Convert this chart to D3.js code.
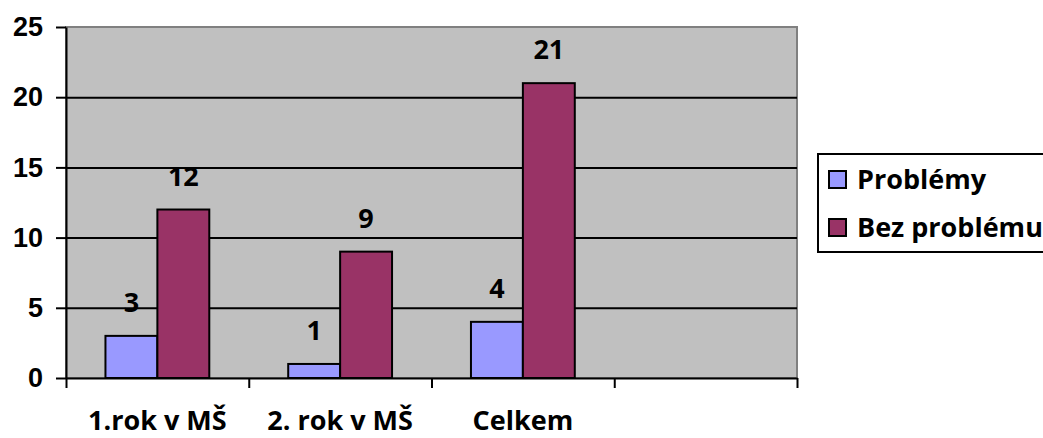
<!DOCTYPE html>
<html>
<head>
<meta charset="utf-8">
<script src="https://cdn.jsdelivr.net/npm/d3@7"></script>
<style>
  html, body { margin: 0; padding: 0; background: #fff; }
  svg { display: block; font-family: "Open Sans", Lato, sans-serif; font-weight: bold; }
</style>
</head>
<body>
<svg id="svg" width="1043" height="438"></svg>
<script>
const categories = ['1.rok v MŠ', '2. rok v MŠ', 'Celkem', ''];
const seriesNames = ['Problémy', 'Bez problému'];
const problemy = [3, 1, 4];
const bezProblemu = [12, 9, 21];
const yTicks = [0, 5, 10, 15, 20, 25];
const colors = ['#9999ff', '#993366'];

const drawChart = function() {
  const svg = d3.select('#svg');
  const plot = { left: 66, top: 27, right: 797, bottom: 378 };
  const fontSize = 27;

  const x = d3.scaleBand().domain(categories).range([plot.left, plot.right]);
  const x1 = d3.scaleBand().domain(seriesNames).range([0, x.bandwidth()]).paddingOuter(0.76);
  const y = d3.scaleLinear().domain([0, 25]).range([plot.bottom, plot.top]);

  // plot background with grey frame
  svg.append('rect')
    .attr('x', plot.left).attr('y', plot.top)
    .attr('width', plot.right - plot.left).attr('height', plot.bottom - plot.top)
    .attr('fill', '#c0c0c0')
    .attr('stroke', '#808080')
    .attr('stroke-width', 2);

  // gridlines
  svg.append('g')
    .attr('transform', 'translate(' + plot.left + ',0)')
    .call(d3.axisLeft(y).tickValues(yTicks.slice(1, -1)).tickSize(-(plot.right - plot.left)).tickFormat(''))
    .call(g => g.select('.domain').remove())
    .selectAll('line').attr('stroke', '#000').attr('stroke-width', 2);

  // bars
  const rows = categories.map((c, i) => ({ cat: c, vals: [problemy[i], bezProblemu[i]] }))
    .filter(r => r.vals[0] !== undefined);

  const groups = svg.append('g').selectAll('g')
    .data(rows).enter().append('g')
    .attr('transform', d => 'translate(' + x(d.cat) + ',0)');

  groups.selectAll('rect')
    .data(d => d.vals.map((v, k) => ({ name: seriesNames[k], v: v, k: k })))
    .enter().append('rect')
    .attr('x', d => x1(d.name))
    .attr('y', d => y(d.v))
    .attr('width', x1.bandwidth())
    .attr('height', d => y(0) - y(d.v))
    .attr('fill', d => colors[d.k])
    .attr('stroke', '#000')
    .attr('stroke-width', 2);

  groups.selectAll('text')
    .data(d => d.vals.map((v, k) => ({ name: seriesNames[k], v: v })))
    .enter().append('text')
    .attr('x', d => x1(d.name) + x1.bandwidth() / 2)
    .attr('y', d => y(d.v) - 24)
    .attr('text-anchor', 'middle')
    .attr('font-size', fontSize)
    .text(d => d.v);

  // y axis
  const yAxis = svg.append('g')
    .attr('transform', 'translate(' + plot.left + ',0)')
    .call(d3.axisLeft(y).tickValues(yTicks).tickSize(10).tickSizeOuter(0).tickPadding(13));
  yAxis.selectAll('line, path').attr('stroke', '#000').attr('stroke-width', 2);
  yAxis.selectAll('text').attr('font-size', fontSize).attr('font-family', null).attr('fill', '#000');

  // x axis ticks at category boundaries
  const xb = d3.scaleLinear().domain([0, categories.length]).range([plot.left, plot.right]);
  const xAxis = svg.append('g')
    .attr('transform', 'translate(0,' + plot.bottom + ')')
    .call(d3.axisBottom(xb).tickValues(d3.range(categories.length + 1)).tickSize(10).tickSizeOuter(0).tickFormat(''));
  xAxis.selectAll('line, path').attr('stroke', '#000').attr('stroke-width', 2);

  // category labels
  svg.append('g').selectAll('text')
    .data(categories).enter().append('text')
    .attr('x', d => x(d) + x.bandwidth() / 2)
    .attr('y', 430)
    .attr('text-anchor', 'middle')
    .attr('font-size', fontSize)
    .text(d => d);

  // legend
  const legend = svg.append('g');
  legend.append('rect')
    .attr('x', 818).attr('y', 154)
    .attr('width', 240).attr('height', 98)
    .attr('fill', '#fff').attr('stroke', '#000').attr('stroke-width', 2);
  const items = legend.selectAll('g.item')
    .data(seriesNames).enter().append('g')
    .attr('transform', (d, i) => 'translate(829,' + (171 + i * 48) + ')');
  items.append('rect')
    .attr('width', 17).attr('height', 17)
    .attr('fill', (d, i) => colors[i])
    .attr('stroke', '#000').attr('stroke-width', 2);
  items.append('text')
    .attr('x', 28).attr('y', 18)
    .attr('font-size', fontSize)
    .text(d => d);
};

window.onload = function() {
  drawChart();
};
</script>
</body>
</html>
